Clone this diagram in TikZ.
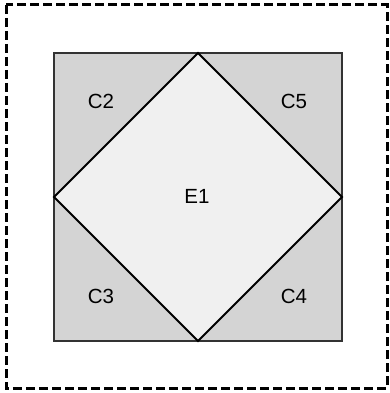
\documentclass[tikz,border=0pt]{standalone}
\usepackage{fontspec}
\setmainfont{Liberation Sans}

\tikzset{
    cornerlabel/.style={font=\fontsize{20.5}{22}\selectfont, text=black},
    framebox/.style={line width=3pt, dash pattern=on 9pt off 4pt},
}

\begin{document}
\begin{tikzpicture}[x=1pt, y=-1pt]

% Define Colors
\colorlet{cornerColor}{black!17}
\colorlet{diamondColor}{black!6}

\useasboundingbox (0,0) rectangle (390,393);

% --- OUTER FRAME (dashed) ---
    \draw[framebox] (6,5) rectangle (387,388);

% --- THE SQUARE (corners) ---
    \draw[fill=cornerColor, draw=black!80, line width=1.5pt] (54,53) rectangle (342,341);

% --- THE DIAMOND ---
    \draw[fill=diamondColor, line width=1.8pt, line join=miter]
    (198,53) -- (342,197) -- (198,341) -- (54,197) -- cycle;

% Labels
    \node[cornerlabel] (c2) at (101,101) {C2};
    \node[cornerlabel] (c5) at (294,101) {C5};
    \node[cornerlabel] (e1) at (197,196) {E1};
    \node[cornerlabel] (c3) at (101,296) {C3};
    \node[cornerlabel] (c4) at (294,296) {C4};

\end{tikzpicture}
\end{document}
